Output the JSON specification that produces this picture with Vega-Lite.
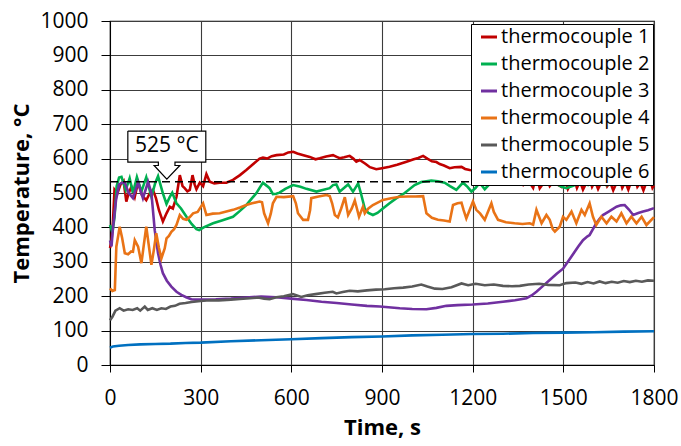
{
  "$schema": "https://vega.github.io/schema/vega-lite/v6.json",
  "width": 544,
  "height": 344,
  "autosize": {"type": "none"},
  "padding": {"left": 110, "top": 21, "right": 27, "bottom": 81},
  "background": "white",
  "config": {
    "font": "Open Sans",
    "view": {"stroke": "black", "strokeWidth": 1.2},
    "axis": {"labelColor": "black", "titleColor": "black", "domainColor": "black", "tickColor": "black", "gridColor": "#3c3c3c", "gridWidth": 1.1, "labelFontSize": 21, "titleFontSize": 22, "titleFontWeight": "bold", "format": "d"}
  },
  "datasets": {
    "series": [
      {"s":1,"t":0,"T":340},{"s":1,"t":5,"T":360},{"s":1,"t":10,"T":420},{"s":1,"t":15,"T":510},{"s":1,"t":25,"T":500},{"s":1,"t":35,"T":525},{"s":1,"t":45,"T":535},{"s":1,"t":54,"T":475},{"s":1,"t":62,"T":500},{"s":1,"t":71,"T":518},{"s":1,"t":82,"T":489},{"s":1,"t":93,"T":533},{"s":1,"t":105,"T":495},{"s":1,"t":120,"T":479},{"s":1,"t":132,"T":500},{"s":1,"t":142,"T":509},{"s":1,"t":152,"T":485},{"s":1,"t":162,"T":450},{"s":1,"t":175,"T":417},{"s":1,"t":187,"T":441},{"s":1,"t":198,"T":460},{"s":1,"t":208,"T":455},{"s":1,"t":220,"T":489},{"s":1,"t":231,"T":552},{"s":1,"t":240,"T":520},{"s":1,"t":247,"T":514},{"s":1,"t":256,"T":505},{"s":1,"t":264,"T":509},{"s":1,"t":273,"T":552},{"s":1,"t":280,"T":525},{"s":1,"t":286,"T":511},{"s":1,"t":297,"T":530},{"s":1,"t":308,"T":520},{"s":1,"t":319,"T":555},{"s":1,"t":330,"T":533},{"s":1,"t":345,"T":528},{"s":1,"t":363,"T":530},{"s":1,"t":385,"T":530},{"s":1,"t":407,"T":538},{"s":1,"t":430,"T":552},{"s":1,"t":451,"T":567},{"s":1,"t":475,"T":585},{"s":1,"t":495,"T":600},{"s":1,"t":506,"T":603},{"s":1,"t":520,"T":600},{"s":1,"t":535,"T":607},{"s":1,"t":551,"T":610},{"s":1,"t":575,"T":612},{"s":1,"t":590,"T":618},{"s":1,"t":606,"T":620},{"s":1,"t":620,"T":615},{"s":1,"t":640,"T":610},{"s":1,"t":661,"T":605},{"s":1,"t":680,"T":598},{"s":1,"t":694,"T":601},{"s":1,"t":715,"T":606},{"s":1,"t":738,"T":610},{"s":1,"t":750,"T":605},{"s":1,"t":760,"T":601},{"s":1,"t":775,"T":604},{"s":1,"t":793,"T":608},{"s":1,"t":805,"T":600},{"s":1,"t":815,"T":591},{"s":1,"t":826,"T":596},{"s":1,"t":845,"T":585},{"s":1,"t":860,"T":575},{"s":1,"t":881,"T":569},{"s":1,"t":900,"T":572},{"s":1,"t":925,"T":576},{"s":1,"t":950,"T":582},{"s":1,"t":981,"T":591},{"s":1,"t":1005,"T":598},{"s":1,"t":1020,"T":602},{"s":1,"t":1036,"T":608},{"s":1,"t":1050,"T":600},{"s":1,"t":1065,"T":592},{"s":1,"t":1080,"T":590},{"s":1,"t":1091,"T":584},{"s":1,"t":1105,"T":580},{"s":1,"t":1124,"T":572},{"s":1,"t":1140,"T":575},{"s":1,"t":1163,"T":576},{"s":1,"t":1175,"T":570},{"s":1,"t":1190,"T":567},{"s":1,"t":1215,"T":565},{"s":1,"t":1240,"T":562},{"s":1,"t":1265,"T":556},{"s":1,"t":1290,"T":552},{"s":1,"t":1310,"T":545},{"s":1,"t":1334,"T":538},{"s":1,"t":1350,"T":530},{"s":1,"t":1367,"T":523},{"s":1,"t":1380,"T":540},{"s":1,"t":1390,"T":528},{"s":1,"t":1400,"T":515},{"s":1,"t":1411,"T":552},{"s":1,"t":1422,"T":514},{"s":1,"t":1435,"T":530},{"s":1,"t":1445,"T":545},{"s":1,"t":1455,"T":520},{"s":1,"t":1466,"T":533},{"s":1,"t":1480,"T":525},{"s":1,"t":1494,"T":518},{"s":1,"t":1505,"T":540},{"s":1,"t":1515,"T":512},{"s":1,"t":1525,"T":530},{"s":1,"t":1535,"T":545},{"s":1,"t":1545,"T":515},{"s":1,"t":1555,"T":535},{"s":1,"t":1565,"T":510},{"s":1,"t":1575,"T":528},{"s":1,"t":1585,"T":548},{"s":1,"t":1595,"T":518},{"s":1,"t":1605,"T":535},{"s":1,"t":1615,"T":512},{"s":1,"t":1625,"T":530},{"s":1,"t":1635,"T":545},{"s":1,"t":1645,"T":520},{"s":1,"t":1655,"T":532},{"s":1,"t":1665,"T":508},{"s":1,"t":1675,"T":528},{"s":1,"t":1685,"T":548},{"s":1,"t":1695,"T":515},{"s":1,"t":1705,"T":532},{"s":1,"t":1715,"T":510},{"s":1,"t":1725,"T":535},{"s":1,"t":1735,"T":550},{"s":1,"t":1745,"T":518},{"s":1,"t":1755,"T":530},{"s":1,"t":1765,"T":508},{"s":1,"t":1775,"T":532},{"s":1,"t":1785,"T":545},{"s":1,"t":1795,"T":515},{"s":1,"t":1800,"T":522},
      {"s":2,"t":0,"T":407},{"s":2,"t":8,"T":386},{"s":2,"t":15,"T":430},{"s":2,"t":22,"T":520},{"s":2,"t":30,"T":545},{"s":2,"t":38,"T":547},{"s":2,"t":52,"T":509},{"s":2,"t":65,"T":543},{"s":2,"t":76,"T":500},{"s":2,"t":89,"T":546},{"s":2,"t":104,"T":504},{"s":2,"t":120,"T":546},{"s":2,"t":137,"T":489},{"s":2,"t":150,"T":530},{"s":2,"t":159,"T":549},{"s":2,"t":175,"T":499},{"s":2,"t":187,"T":468},{"s":2,"t":198,"T":489},{"s":2,"t":206,"T":501},{"s":2,"t":220,"T":470},{"s":2,"t":235,"T":455},{"s":2,"t":253,"T":431},{"s":2,"t":270,"T":410},{"s":2,"t":286,"T":395},{"s":2,"t":295,"T":392},{"s":2,"t":310,"T":400},{"s":2,"t":341,"T":412},{"s":2,"t":370,"T":420},{"s":2,"t":407,"T":431},{"s":2,"t":430,"T":448},{"s":2,"t":451,"T":465},{"s":2,"t":470,"T":485},{"s":2,"t":484,"T":499},{"s":2,"t":495,"T":515},{"s":2,"t":506,"T":530},{"s":2,"t":520,"T":520},{"s":2,"t":528,"T":514},{"s":2,"t":539,"T":497},{"s":2,"t":550,"T":498},{"s":2,"t":561,"T":501},{"s":2,"t":580,"T":512},{"s":2,"t":606,"T":523},{"s":2,"t":630,"T":518},{"s":2,"t":650,"T":512},{"s":2,"t":683,"T":504},{"s":2,"t":700,"T":508},{"s":2,"t":727,"T":514},{"s":2,"t":738,"T":523},{"s":2,"t":749,"T":525},{"s":2,"t":760,"T":504},{"s":2,"t":775,"T":515},{"s":2,"t":788,"T":525},{"s":2,"t":804,"T":504},{"s":2,"t":812,"T":515},{"s":2,"t":821,"T":528},{"s":2,"t":830,"T":500},{"s":2,"t":843,"T":455},{"s":2,"t":855,"T":442},{"s":2,"t":870,"T":436},{"s":2,"t":885,"T":442},{"s":2,"t":903,"T":455},{"s":2,"t":925,"T":470},{"s":2,"t":948,"T":485},{"s":2,"t":975,"T":500},{"s":2,"t":1008,"T":523},{"s":2,"t":1030,"T":532},{"s":2,"t":1063,"T":536},{"s":2,"t":1085,"T":534},{"s":2,"t":1107,"T":530},{"s":2,"t":1125,"T":520},{"s":2,"t":1146,"T":509},{"s":2,"t":1168,"T":530},{"s":2,"t":1183,"T":518},{"s":2,"t":1196,"T":504},{"s":2,"t":1210,"T":515},{"s":2,"t":1223,"T":530},{"s":2,"t":1240,"T":511},{"s":2,"t":1255,"T":525},{"s":2,"t":1273,"T":543},{"s":2,"t":1300,"T":545},{"s":2,"t":1317,"T":547},{"s":2,"t":1345,"T":560},{"s":2,"t":1370,"T":575},{"s":2,"t":1395,"T":578},{"s":2,"t":1420,"T":565},{"s":2,"t":1444,"T":552},{"s":2,"t":1455,"T":545},{"s":2,"t":1466,"T":533},{"s":2,"t":1480,"T":525},{"s":2,"t":1495,"T":518},{"s":2,"t":1510,"T":514},{"s":2,"t":1530,"T":520},{"s":2,"t":1554,"T":528},{"s":2,"t":1570,"T":526},{"s":2,"t":1582,"T":523},{"s":2,"t":1598,"T":538},{"s":2,"t":1615,"T":530},{"s":2,"t":1643,"T":523},{"s":2,"t":1660,"T":526},{"s":2,"t":1680,"T":524},{"s":2,"t":1700,"T":528},{"s":2,"t":1720,"T":526},{"s":2,"t":1740,"T":530},{"s":2,"t":1760,"T":527},{"s":2,"t":1780,"T":529},{"s":2,"t":1800,"T":530},
      {"s":3,"t":0,"T":362},{"s":3,"t":5,"T":345},{"s":3,"t":10,"T":400},{"s":3,"t":20,"T":480},{"s":3,"t":30,"T":525},{"s":3,"t":40,"T":530},{"s":3,"t":49,"T":530},{"s":3,"t":62,"T":500},{"s":3,"t":76,"T":485},{"s":3,"t":85,"T":510},{"s":3,"t":93,"T":530},{"s":3,"t":100,"T":510},{"s":3,"t":109,"T":485},{"s":3,"t":118,"T":510},{"s":3,"t":126,"T":532},{"s":3,"t":137,"T":500},{"s":3,"t":148,"T":392},{"s":3,"t":159,"T":325},{"s":3,"t":167,"T":292},{"s":3,"t":175,"T":267},{"s":3,"t":188,"T":245},{"s":3,"t":203,"T":228},{"s":3,"t":220,"T":213},{"s":3,"t":236,"T":204},{"s":3,"t":252,"T":197},{"s":3,"t":269,"T":191},{"s":3,"t":285,"T":190},{"s":3,"t":300,"T":190},{"s":3,"t":350,"T":191},{"s":3,"t":400,"T":193},{"s":3,"t":450,"T":196},{"s":3,"t":500,"T":199},{"s":3,"t":550,"T":197},{"s":3,"t":600,"T":193},{"s":3,"t":650,"T":189},{"s":3,"t":700,"T":184},{"s":3,"t":750,"T":180},{"s":3,"t":800,"T":176},{"s":3,"t":850,"T":172},{"s":3,"t":893,"T":170},{"s":3,"t":959,"T":165},{"s":3,"t":1000,"T":163},{"s":3,"t":1047,"T":162},{"s":3,"t":1080,"T":166},{"s":3,"t":1113,"T":172},{"s":3,"t":1150,"T":174},{"s":3,"t":1200,"T":176},{"s":3,"t":1250,"T":179},{"s":3,"t":1300,"T":184},{"s":3,"t":1340,"T":188},{"s":3,"t":1378,"T":194},{"s":3,"t":1395,"T":202},{"s":3,"t":1411,"T":213},{"s":3,"t":1433,"T":230},{"s":3,"t":1455,"T":247},{"s":3,"t":1478,"T":265},{"s":3,"t":1499,"T":280},{"s":3,"t":1515,"T":300},{"s":3,"t":1532,"T":322},{"s":3,"t":1550,"T":345},{"s":3,"t":1565,"T":363},{"s":3,"t":1580,"T":374},{"s":3,"t":1587,"T":378},{"s":3,"t":1598,"T":395},{"s":3,"t":1609,"T":412},{"s":3,"t":1620,"T":425},{"s":3,"t":1631,"T":436},{"s":3,"t":1650,"T":446},{"s":3,"t":1676,"T":460},{"s":3,"t":1690,"T":464},{"s":3,"t":1703,"T":465},{"s":3,"t":1717,"T":452},{"s":3,"t":1731,"T":436},{"s":3,"t":1748,"T":442},{"s":3,"t":1764,"T":446},{"s":3,"t":1780,"T":450},{"s":3,"t":1800,"T":456},
      {"s":4,"t":0,"T":223},{"s":4,"t":8,"T":215},{"s":4,"t":16,"T":218},{"s":4,"t":21,"T":344},{"s":4,"t":28,"T":380},{"s":4,"t":32,"T":402},{"s":4,"t":40,"T":370},{"s":4,"t":49,"T":325},{"s":4,"t":60,"T":322},{"s":4,"t":70,"T":330},{"s":4,"t":76,"T":329},{"s":4,"t":82,"T":363},{"s":4,"t":93,"T":344},{"s":4,"t":104,"T":296},{"s":4,"t":112,"T":350},{"s":4,"t":120,"T":402},{"s":4,"t":128,"T":350},{"s":4,"t":137,"T":291},{"s":4,"t":145,"T":334},{"s":4,"t":153,"T":383},{"s":4,"t":162,"T":340},{"s":4,"t":170,"T":310},{"s":4,"t":181,"T":339},{"s":4,"t":187,"T":368},{"s":4,"t":195,"T":375},{"s":4,"t":203,"T":387},{"s":4,"t":212,"T":395},{"s":4,"t":220,"T":407},{"s":4,"t":231,"T":436},{"s":4,"t":242,"T":425},{"s":4,"t":253,"T":422},{"s":4,"t":264,"T":430},{"s":4,"t":275,"T":441},{"s":4,"t":290,"T":445},{"s":4,"t":308,"T":470},{"s":4,"t":319,"T":436},{"s":4,"t":340,"T":440},{"s":4,"t":363,"T":441},{"s":4,"t":385,"T":446},{"s":4,"t":407,"T":451},{"s":4,"t":430,"T":458},{"s":4,"t":451,"T":465},{"s":4,"t":470,"T":470},{"s":4,"t":495,"T":475},{"s":4,"t":503,"T":473},{"s":4,"t":510,"T":441},{"s":4,"t":523,"T":412},{"s":4,"t":532,"T":440},{"s":4,"t":539,"T":470},{"s":4,"t":551,"T":489},{"s":4,"t":575,"T":488},{"s":4,"t":606,"T":491},{"s":4,"t":615,"T":470},{"s":4,"t":622,"T":441},{"s":4,"t":639,"T":422},{"s":4,"t":655,"T":422},{"s":4,"t":662,"T":450},{"s":4,"t":666,"T":485},{"s":4,"t":690,"T":490},{"s":4,"t":716,"T":494},{"s":4,"t":727,"T":491},{"s":4,"t":735,"T":470},{"s":4,"t":744,"T":436},{"s":4,"t":754,"T":429},{"s":4,"t":765,"T":455},{"s":4,"t":777,"T":488},{"s":4,"t":788,"T":436},{"s":4,"t":800,"T":455},{"s":4,"t":810,"T":478},{"s":4,"t":817,"T":455},{"s":4,"t":824,"T":431},{"s":4,"t":837,"T":460},{"s":4,"t":843,"T":441},{"s":4,"t":855,"T":455},{"s":4,"t":870,"T":465},{"s":4,"t":903,"T":480},{"s":4,"t":930,"T":485},{"s":4,"t":959,"T":489},{"s":4,"t":985,"T":490},{"s":4,"t":1010,"T":490},{"s":4,"t":1036,"T":491},{"s":4,"t":1047,"T":441},{"s":4,"t":1065,"T":428},{"s":4,"t":1085,"T":422},{"s":4,"t":1105,"T":420},{"s":4,"t":1124,"T":417},{"s":4,"t":1135,"T":465},{"s":4,"t":1150,"T":470},{"s":4,"t":1163,"T":472},{"s":4,"t":1170,"T":450},{"s":4,"t":1179,"T":426},{"s":4,"t":1201,"T":475},{"s":4,"t":1212,"T":451},{"s":4,"t":1225,"T":440},{"s":4,"t":1240,"T":422},{"s":4,"t":1262,"T":470},{"s":4,"t":1270,"T":445},{"s":4,"t":1284,"T":422},{"s":4,"t":1310,"T":415},{"s":4,"t":1339,"T":412},{"s":4,"t":1365,"T":410},{"s":4,"t":1389,"T":412},{"s":4,"t":1400,"T":408},{"s":4,"t":1411,"T":451},{"s":4,"t":1428,"T":412},{"s":4,"t":1444,"T":436},{"s":4,"t":1455,"T":422},{"s":4,"t":1465,"T":395},{"s":4,"t":1472,"T":388},{"s":4,"t":1488,"T":402},{"s":4,"t":1499,"T":431},{"s":4,"t":1510,"T":422},{"s":4,"t":1527,"T":446},{"s":4,"t":1543,"T":412},{"s":4,"t":1560,"T":451},{"s":4,"t":1571,"T":436},{"s":4,"t":1587,"T":470},{"s":4,"t":1598,"T":431},{"s":4,"t":1609,"T":407},{"s":4,"t":1626,"T":431},{"s":4,"t":1643,"T":412},{"s":4,"t":1659,"T":431},{"s":4,"t":1676,"T":417},{"s":4,"t":1692,"T":441},{"s":4,"t":1709,"T":412},{"s":4,"t":1725,"T":431},{"s":4,"t":1742,"T":412},{"s":4,"t":1759,"T":431},{"s":4,"t":1775,"T":407},{"s":4,"t":1800,"T":430},
      {"s":5,"t":0,"T":130},{"s":5,"t":8,"T":140},{"s":5,"t":18,"T":158},{"s":5,"t":32,"T":165},{"s":5,"t":45,"T":158},{"s":5,"t":60,"T":162},{"s":5,"t":75,"T":160},{"s":5,"t":90,"T":165},{"s":5,"t":100,"T":158},{"s":5,"t":115,"T":170},{"s":5,"t":125,"T":160},{"s":5,"t":140,"T":165},{"s":5,"t":155,"T":160},{"s":5,"t":170,"T":165},{"s":5,"t":185,"T":163},{"s":5,"t":200,"T":170},{"s":5,"t":215,"T":172},{"s":5,"t":230,"T":178},{"s":5,"t":250,"T":180},{"s":5,"t":270,"T":183},{"s":5,"t":300,"T":186},{"s":5,"t":330,"T":188},{"s":5,"t":360,"T":188},{"s":5,"t":400,"T":190},{"s":5,"t":430,"T":192},{"s":5,"t":463,"T":194},{"s":5,"t":490,"T":196},{"s":5,"t":510,"T":193},{"s":5,"t":528,"T":191},{"s":5,"t":550,"T":197},{"s":5,"t":575,"T":200},{"s":5,"t":605,"T":206},{"s":5,"t":633,"T":198},{"s":5,"t":654,"T":203},{"s":5,"t":680,"T":206},{"s":5,"t":710,"T":210},{"s":5,"t":737,"T":213},{"s":5,"t":749,"T":208},{"s":5,"t":770,"T":212},{"s":5,"t":793,"T":216},{"s":5,"t":820,"T":214},{"s":5,"t":850,"T":217},{"s":5,"t":880,"T":219},{"s":5,"t":909,"T":220},{"s":5,"t":940,"T":223},{"s":5,"t":970,"T":225},{"s":5,"t":1000,"T":228},{"s":5,"t":1030,"T":234},{"s":5,"t":1050,"T":228},{"s":5,"t":1075,"T":222},{"s":5,"t":1100,"T":221},{"s":5,"t":1130,"T":226},{"s":5,"t":1163,"T":237},{"s":5,"t":1185,"T":232},{"s":5,"t":1210,"T":236},{"s":5,"t":1240,"T":232},{"s":5,"t":1270,"T":234},{"s":5,"t":1300,"T":230},{"s":5,"t":1330,"T":229},{"s":5,"t":1356,"T":230},{"s":5,"t":1385,"T":234},{"s":5,"t":1420,"T":236},{"s":5,"t":1450,"T":233},{"s":5,"t":1488,"T":232},{"s":5,"t":1510,"T":238},{"s":5,"t":1540,"T":240},{"s":5,"t":1560,"T":236},{"s":5,"t":1580,"T":241},{"s":5,"t":1600,"T":237},{"s":5,"t":1620,"T":243},{"s":5,"t":1640,"T":238},{"s":5,"t":1660,"T":242},{"s":5,"t":1680,"T":239},{"s":5,"t":1700,"T":244},{"s":5,"t":1720,"T":241},{"s":5,"t":1740,"T":245},{"s":5,"t":1760,"T":242},{"s":5,"t":1780,"T":246},{"s":5,"t":1800,"T":245},
      {"s":6,"t":0,"T":50},{"s":6,"t":10,"T":54},{"s":6,"t":30,"T":56},{"s":6,"t":60,"T":58},{"s":6,"t":100,"T":60},{"s":6,"t":150,"T":61},{"s":6,"t":200,"T":62},{"s":6,"t":250,"T":64},{"s":6,"t":300,"T":65},{"s":6,"t":400,"T":69},{"s":6,"t":500,"T":72},{"s":6,"t":600,"T":75},{"s":6,"t":700,"T":78},{"s":6,"t":800,"T":81},{"s":6,"t":900,"T":83},{"s":6,"t":1000,"T":86},{"s":6,"t":1100,"T":88},{"s":6,"t":1200,"T":90},{"s":6,"t":1300,"T":91},{"s":6,"t":1400,"T":93},{"s":6,"t":1500,"T":94},{"s":6,"t":1600,"T":95},{"s":6,"t":1700,"T":97},{"s":6,"t":1800,"T":98}
    ],
    "callout": [
      {"o":1,"t":59,"T":680},{"o":2,"t":317,"T":680},{"o":3,"t":317,"T":590},{"o":4,"t":215,"T":590},{"o":5,"t":215,"T":580},{"o":6,"t":231,"T":580},{"o":7,"t":188,"T":540},{"o":8,"t":146,"T":580},{"o":9,"t":160,"T":580},{"o":10,"t":160,"T":590},{"o":11,"t":59,"T":590},{"o":12,"t":59,"T":680}
    ]
  },
  "encoding": {
    "x": {"field": "t", "type": "quantitative", "scale": {"domain": [0, 1800], "nice": false},
      "axis": {"values": [0, 300, 600, 900, 1200, 1500, 1800], "title": "Time, s", "tickSize": 7, "labelPadding": 15, "titleX": 272, "titleY": 62, "titleBaseline": "middle", "titleAlign": "center", "labelFlush": false, "labelOverlap": false}},
    "y": {"field": "T", "type": "quantitative", "scale": {"domain": [0, 1000], "nice": false},
      "axis": {"values": [0, 100, 200, 300, 400, 500, 600, 700, 800, 900, 1000], "title": "Temperature, °C", "tickSize": 9, "labelPadding": 13, "titleX": -89, "titleY": 172, "titleBaseline": "middle", "titleAlign": "center", "labelOverlap": false, "labelFlush": false}}
  },
  "layer": [
    {
      "data": {"name": "series"},
      "mark": {"type": "line", "strokeWidth": 2.6},
      "encoding": {
        "color": {"field": "s", "type": "nominal",
          "scale": {"domain": [1, 2, 3, 4, 5, 6], "range": ["#C00000", "#00B050", "#7030A0", "#E97316", "#595959", "#0070C0"]},
          "legend": {"title": null, "orient": "none", "legendX": 361, "legendY": 3, "labelExpr": "'thermocouple ' + datum.label", "fillColor": "white", "strokeColor": "black", "padding": 3, "symbolOffset": 5, "symbolType": "stroke", "symbolSize": 256, "symbolStrokeWidth": 3, "labelFontSize": 20, "labelColor": "black", "rowPadding": 7, "labelOffset": 2}}
      }
    },
    {
      "data": {"values": [{"t": 0, "t2": 1800, "T": 533}]},
      "mark": {"type": "rule", "color": "black", "strokeWidth": 1.5, "strokeDash": [8, 5]},
      "encoding": {"x2": {"field": "t2"}}
    },
    {
      "data": {"name": "callout"},
      "mark": {"type": "line", "stroke": "black", "fill": "white", "strokeWidth": 1.2},
      "encoding": {
        "order": {"field": "o", "type": "quantitative"}
      }
    },
    {
      "data": {"values": [{"t": 188, "T": 636, "label": "525 °C"}]},
      "mark": {"type": "text", "fontSize": 21, "color": "black", "align": "center", "baseline": "middle"},
      "encoding": {
        "text": {"field": "label"}
      }
    }
  ]
}
